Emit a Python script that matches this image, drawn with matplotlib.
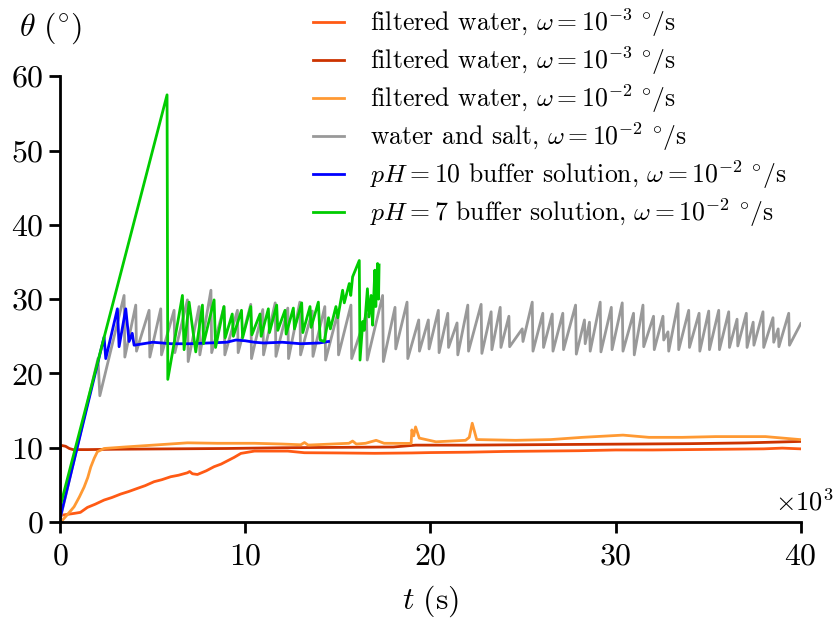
import matplotlib
matplotlib.use("Agg")
import matplotlib.pyplot as plt

plt.rcParams['font.family'] = 'serif'
plt.rcParams['font.serif'] = ['cmr10']
plt.rcParams['mathtext.fontset'] = 'cm'
plt.rcParams['axes.formatter.use_mathtext'] = True
plt.rcParams['axes.unicode_minus'] = False

# time in units of 10^3 s, angle in degrees
# filtered water, 1e-3 deg/s (bright orange)
fw1_t = [0.0, 0.04, 0.3, 0.76, 1.1, 1.48, 1.9, 2.38, 2.8, 3.28, 3.7, 4.18, 4.6, 5.08,
         5.5, 5.98, 6.4, 6.88, 7.0, 7.15, 7.42, 7.9, 8.32, 8.7, 9.05, 9.4, 9.77, 10.5,
         11.5, 12.3, 13.2, 15.0, 17.0, 19.0, 20.0, 22.0, 24.0, 26.0, 28.0, 30.0, 32.0,
         34.0, 36.0, 38.0, 39.0, 40.0]
fw1_y = [0.3, 0.9, 1.0, 1.16, 1.3, 1.97, 2.4, 2.96, 3.3, 3.77, 4.1, 4.53, 4.9, 5.43,
         5.7, 6.1, 6.3, 6.63, 6.8, 6.5, 6.4, 6.9, 7.45, 7.8, 8.25, 8.7, 9.24, 9.55,
         9.55, 9.55, 9.33, 9.3, 9.25, 9.3, 9.35, 9.4, 9.5, 9.55, 9.6, 9.7, 9.7,
         9.75, 9.8, 9.85, 9.95, 9.85]

# filtered water, 1e-3 deg/s (dark red)
fw2_t = [0.0, 0.03, 0.1, 0.3, 0.5, 0.7, 1.5, 3.0, 6.0, 9.0, 12.0, 15.0, 18.0, 19.2,
         22.0, 25.0, 28.0, 31.0, 34.0, 37.0, 40.0]
fw2_y = [0.5, 10.2, 10.3, 10.2, 9.9, 9.75, 9.75, 9.8, 9.85, 9.9, 10.0, 10.05, 10.1, 10.35,
         10.35, 10.4, 10.45, 10.5, 10.55, 10.65, 10.85]

# filtered water, 1e-2 deg/s (light orange)
fw3_t = [0.0, 0.04, 0.4, 0.76, 1.05, 1.3, 1.5, 1.66, 1.85, 2.02, 2.38, 3.5, 5.08, 6.88,
         8.5, 10.5, 12.0, 13.0, 13.2, 13.4, 15.6, 15.8, 16.0, 16.5, 17.07, 17.5, 18.96,
         19.0, 19.1, 19.2, 19.4, 20.3, 21.9, 22.1, 22.26, 22.5, 24.6, 26.5, 28.2,
         30.4, 31.8, 33.6, 35.4, 38.1, 39.95]
fw3_y = [0.0, 0.0, 1.0, 2.06, 3.4, 4.7, 6.0, 7.4, 8.6, 9.47, 9.9, 10.1, 10.36, 10.66,
         10.6, 10.6, 10.5, 10.4, 10.7, 10.36, 10.6, 10.9, 10.5, 10.6, 11.0, 10.6, 10.58,
         12.4, 11.6, 12.8, 11.3, 10.8, 11.0, 11.4, 13.3, 11.1, 11.0, 11.1, 11.4,
         11.7, 11.4, 11.4, 11.5, 11.5, 11.1]

# water and salt: initial ramp then stick-slip sawtooth (peak, then slip down to trough)
salt_start_t = [0.0, 2.05, 2.15]
salt_start_y = [0.3, 22.0, 17.0]
salt_peak_t = [3.46, 4.09, 4.81, 5.44, 6.16, 6.88, 7.51, 8.15, 8.86, 9.58, 10.30, 10.95,
               11.62, 12.30, 12.95, 13.62, 14.30, 15.00, 15.71, 16.55, 17.42, 18.09,
               18.74, 19.37, 19.89, 20.43, 20.94, 21.44, 22.02, 22.74, 23.28, 23.77,
               24.24, 24.96, 25.50, 26.07, 26.58, 27.15, 27.84, 28.32, 28.59, 29.17,
               29.77, 30.36, 30.97, 31.48, 32.05, 32.56, 32.83, 33.37, 33.95, 34.51,
               35.03, 35.57, 36.11, 36.56, 37.06, 37.43, 37.96, 38.50, 38.78, 39.35]
salt_peak_y = [30.5, 29.2, 28.5, 28.7, 28.5, 29.9, 29.0, 31.2, 29.0, 28.5, 29.3, 28.6,
               29.5, 28.8, 29.6, 28.4, 29.0, 28.2, 29.2, 28.0, 30.5, 28.9, 29.6, 27.2,
               27.2, 28.5, 28.1, 26.8, 29.2, 29.3, 28.3, 28.9, 27.7, 26.0, 29.6, 28.1,
               28.0, 28.1, 29.2, 27.2, 26.9, 29.6, 28.9, 29.5, 28.1, 29.2, 27.7, 27.7,
               25.6, 29.4, 28.5, 28.1, 28.4, 28.5, 28.3, 27.3, 28.1, 26.9, 28.3, 27.5,
               26.0, 28.1]
salt_trough_y = [22.2, 23.0, 22.2, 22.5, 22.8, 21.6, 22.5, 22.8, 22.5, 22.8, 22.0, 22.5,
                 22.3, 22.0, 22.5, 22.3, 21.8, 22.5, 22.0, 21.8, 21.6, 23.3, 22.0, 23.0,
                 23.3, 22.8, 23.5, 22.5, 23.0, 22.7, 23.2, 23.5, 23.6, 24.3, 23.0, 23.5,
                 23.0, 23.2, 22.6, 24.0, 23.0, 22.9, 23.2, 23.0, 22.5, 23.6, 23.2, 24.5,
                 23.0, 23.2, 23.5, 23.0, 23.2, 23.2, 23.5, 23.7, 23.5, 23.8, 23.5, 24.2,
                 23.6, 23.8]
salt_end_t = 40.0
salt_end_y = 26.7

# pH 10 buffer
ph10_t = [0.0, 2.38, 2.47, 3.10, 3.19, 3.55, 3.73, 3.90, 4.00, 5.0, 6.0, 7.0, 8.0, 9.0,
          9.5, 10.0, 10.5, 11.0, 12.0, 13.0, 14.0, 14.5]
ph10_y = [0.5, 24.9, 22.0, 28.7, 23.6, 28.7, 24.3, 25.4, 23.8, 24.2, 24.0, 24.0, 24.1, 24.2,
          24.5, 24.4, 24.2, 24.1, 24.2, 24.0, 24.1, 24.3]

# pH 7 buffer
ph7_t = [0.0, 5.78, 5.82, 6.61, 6.70, 6.97, 7.33, 7.69, 7.75, 8.32, 8.40, 8.85, 8.92,
         9.30, 9.36, 9.80, 9.86, 10.30, 10.36, 10.80, 10.86, 11.25, 11.31, 11.70, 11.76,
         12.15, 12.21, 12.60, 12.66, 13.05, 13.11, 13.50, 13.56, 13.95, 14.05, 14.27,
         14.50, 14.60, 14.90, 15.00, 15.26, 15.35, 15.62, 15.70, 15.80, 16.16, 16.20,
         16.35, 16.43, 16.60, 16.68, 16.80, 16.88, 17.00, 17.05, 17.15, 17.20, 17.23]
ph7_y = [2.0, 57.5, 19.2, 30.5, 23.2, 29.6, 22.9, 29.2, 24.0, 29.9, 23.5, 29.0, 24.8,
         28.0, 25.0, 28.5, 24.8, 29.0, 25.2, 28.0, 25.0, 28.7, 25.5, 29.2, 25.8,
         28.5, 25.3, 28.8, 26.0, 29.5, 25.5, 29.0, 26.2, 29.6, 24.5, 24.3,
         27.5, 26.0, 29.0, 27.5, 31.2, 29.5, 32.1, 30.5, 33.0, 35.2, 21.8,
         27.0, 25.8, 31.4, 27.6, 30.5, 26.5, 33.9, 29.0, 34.8, 30.0, 34.6]

labels = [r"filtered water, $\omega = 10^{-3}\ ^{\circ}/\mathrm{s}$",
          r"filtered water, $\omega = 10^{-3}\ ^{\circ}/\mathrm{s}$",
          r"filtered water, $\omega = 10^{-2}\ ^{\circ}/\mathrm{s}$",
          r"water and salt, $\omega = 10^{-2}\ ^{\circ}/\mathrm{s}$",
          r"$pH = 10$ buffer solution, $\omega = 10^{-2}\ ^{\circ}/\mathrm{s}$",
          r"$pH = 7$ buffer solution, $\omega = 10^{-2}\ ^{\circ}/\mathrm{s}$"]
colors = ['#ff5a14', '#cc3300', '#ff9933', '#999999', '#0000ff', '#00cc00']

# assemble the sawtooth vertices from the read peaks/troughs
salt_t = list(salt_start_t)
salt_y = list(salt_start_y)
for tp, yp, yt in zip(salt_peak_t, salt_peak_y, salt_trough_y):
    salt_t += [tp, tp + 0.04]
    salt_y += [yp, yt]
salt_t.append(salt_end_t)
salt_y.append(salt_end_y)

fig = plt.figure(figsize=(8.37, 6.2), dpi=100)
ax = fig.add_axes([0.0717, 0.158, 0.885, 0.719])

lw = 2.0
ax.plot(fw1_t, fw1_y, color=colors[0], lw=lw, label=labels[0])
ax.plot(fw2_t, fw2_y, color=colors[1], lw=lw, label=labels[1])
ax.plot(fw3_t, fw3_y, color=colors[2], lw=lw, label=labels[2])
ax.plot(salt_t, salt_y, color=colors[3], lw=lw, label=labels[3])
ax.plot(ph10_t, ph10_y, color=colors[4], lw=lw, label=labels[4])
ax.plot(ph7_t, ph7_y, color=colors[5], lw=lw, label=labels[5])

ax.set_xlim(0, 40)
ax.set_ylim(0, 60)
ax.set_xticks([0, 10, 20, 30, 40])
ax.set_yticks([0, 10, 20, 30, 40, 50, 60])
ax.spines['top'].set_visible(False)
ax.spines['right'].set_visible(False)
ax.spines['left'].set_linewidth(2.0)
ax.spines['bottom'].set_linewidth(2.0)
ax.tick_params(axis='both', direction='out', length=8, width=2.0, labelsize=23)
ax.tick_params(axis='y', pad=4)
ax.tick_params(axis='x', pad=7)

fig.text(0.996, 0.168, r"$\times10^{3}$", fontsize=19, ha='right', va='bottom')
fig.text(0.06, 0.955, r"$\theta\ (^{\circ})$", fontsize=23, ha='center', va='center')
fig.text(0.515, 0.03, r"$t\ (\mathrm{s})$", fontsize=23, ha='center', va='center')

leg = ax.legend(loc='upper left', bbox_to_anchor=(313 / 837, 0.99),
                bbox_transform=fig.transFigure, frameon=False, fontsize=18.5,
                handlelength=1.2, handletextpad=1.0, labelspacing=0.22,
                borderpad=0.0, borderaxespad=0.0)

fig.savefig("out.png", dpi=100)
